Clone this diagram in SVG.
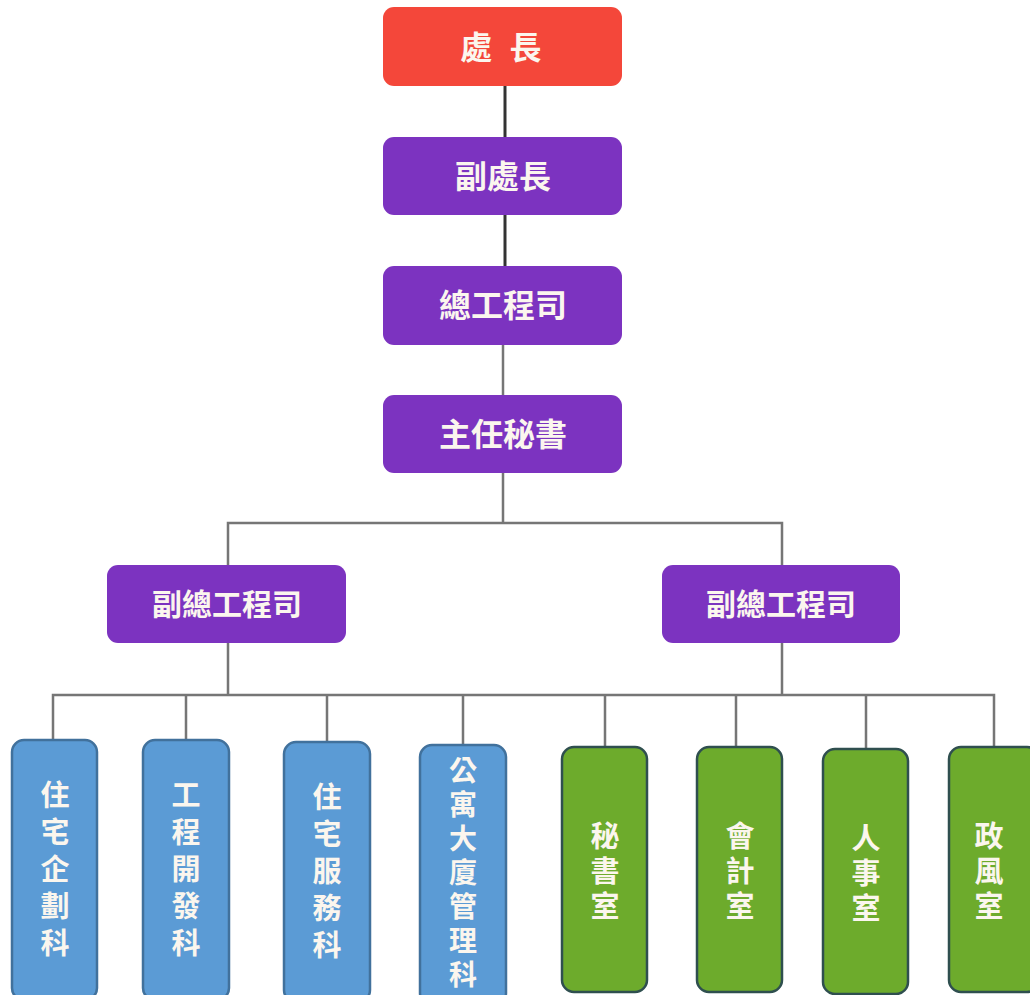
<svg xmlns="http://www.w3.org/2000/svg" width="1030" height="995" viewBox="0 0 1030 995">
<style>
.red{fill:#f4473a}
.pur{fill:#7c33c0}
.blue{fill:#5b9bd5;stroke:#41719c;stroke-width:2.5}
.green{fill:#6dab2c;stroke:#2f4f4f;stroke-width:2.5}
.t{fill:#fbf6ee;font-family:"Noto Sans CJK TC","Noto Sans CJK SC",sans-serif;font-weight:bold;text-anchor:middle}
.h{font-size:32px}
.s{font-size:30px}
.v{font-size:29px}
.v2{font-size:28px}
.c1{stroke:#333;stroke-width:3;fill:none}
.c2{stroke:#767676;stroke-width:2.5;fill:none}
</style>
<rect width="1030" height="995" fill="#fff"/>
<g id="connectors">
<line class="c1" x1="505" y1="86" x2="505" y2="137"/>
<line class="c1" x1="505" y1="215" x2="505" y2="266"/>
<line class="c2" x1="503" y1="345" x2="503" y2="395"/>
<path class="c2" d="M503 473V523M228 565V523H782V565"/>
<path class="c2" d="M228 643V695M782 643V695M53 740V695H994V747"/>
<path class="c2" d="M186 695V740M327 695V742M463 695V745M605 695V747M736 695V747M866 695V749"/>
</g>
<g id="n1"><rect class="red" x="383" y="7" width="239" height="79" rx="11"/><text class="t h" x="501" y="59" word-spacing="10">處 長</text></g>
<g id="n2"><rect class="pur" x="383" y="137" width="239" height="78" rx="11"/><text class="t h" x="503" y="188">副處長</text></g>
<g id="n3"><rect class="pur" x="383" y="266" width="239" height="79" rx="11"/><text class="t h" x="503" y="317">總工程司</text></g>
<g id="n4"><rect class="pur" x="383" y="395" width="239" height="78" rx="11"/><text class="t h" x="503" y="446">主任秘書</text></g>
<g id="n5"><rect class="pur" x="107" y="565" width="239" height="78" rx="11"/><text class="t s" x="227" y="615">副總工程司</text></g>
<g id="n6"><rect class="pur" x="662" y="565" width="238" height="78" rx="11"/><text class="t s" x="781" y="615">副總工程司</text></g>
<g id="b1"><rect class="blue" x="12" y="740" width="85" height="260" rx="12"/><text class="t v" x="55" y="806">住<tspan x="55" dy="37">宅</tspan><tspan x="55" dy="37">企</tspan><tspan x="55" dy="37">劃</tspan><tspan x="55" dy="37">科</tspan></text></g>
<g id="b2"><rect class="blue" x="143" y="740" width="86" height="260" rx="12"/><text class="t v" x="186" y="806">工<tspan x="186" dy="37">程</tspan><tspan x="186" dy="37">開</tspan><tspan x="186" dy="37">發</tspan><tspan x="186" dy="37">科</tspan></text></g>
<g id="b3"><rect class="blue" x="284" y="742" width="86" height="260" rx="12"/><text class="t v" x="327" y="808">住<tspan x="327" dy="37">宅</tspan><tspan x="327" dy="37">服</tspan><tspan x="327" dy="37">務</tspan><tspan x="327" dy="37">科</tspan></text></g>
<g id="b4"><rect class="blue" x="420" y="745" width="86" height="260" rx="12"/><text class="t v2" x="463" y="781">公<tspan x="463" dy="34">寓</tspan><tspan x="463" dy="34">大</tspan><tspan x="463" dy="34">廈</tspan><tspan x="463" dy="34">管</tspan><tspan x="463" dy="34">理</tspan><tspan x="463" dy="34">科</tspan></text></g>
<g id="g1"><rect class="green" x="562" y="747" width="85" height="245" rx="12"/><text class="t v" x="605" y="847">秘<tspan x="605" dy="35">書</tspan><tspan x="605" dy="35">室</tspan></text></g>
<g id="g2"><rect class="green" x="697" y="747" width="85" height="245" rx="12"/><text class="t v" x="740" y="847">會<tspan x="740" dy="35">計</tspan><tspan x="740" dy="35">室</tspan></text></g>
<g id="g3"><rect class="green" x="823" y="749" width="85" height="245" rx="12"/><text class="t v" x="866" y="849">人<tspan x="866" dy="35">事</tspan><tspan x="866" dy="35">室</tspan></text></g>
<g id="g4"><rect class="green" x="949" y="747" width="90" height="245" rx="12"/><text class="t v" x="989" y="847">政<tspan x="989" dy="35">風</tspan><tspan x="989" dy="35">室</tspan></text></g>
</svg>
